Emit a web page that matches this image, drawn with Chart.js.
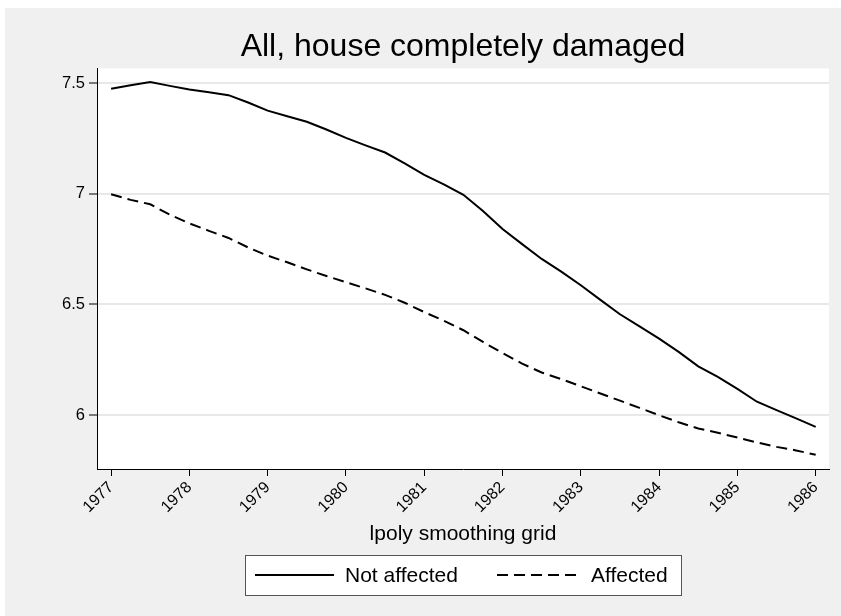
<!DOCTYPE html>
<html>
<head>
<meta charset="utf-8">
<script src="https://cdn.jsdelivr.net/npm/chart.js@4.4.0/dist/chart.umd.min.js"></script>
<style>
html, body { margin: 0; padding: 0; background: #fff; overflow: hidden; width: 841px; height: 616px; }
#panel { position: absolute; left: 5px; top: 8px; width: 836px; height: 608px; background: #f0f0f0; }
#chart { position: absolute; left: 0; top: 0; }
</style>
</head>
<body>
<div id="panel"></div>
<canvas id="chart" width="841" height="616"></canvas>
<script>
// lpoly grid points (years)
const grid = [1977, 1977.25, 1977.5, 1977.75, 1978, 1978.25, 1978.5, 1978.75,
    1979, 1979.25, 1979.5, 1979.75, 1980, 1980.25, 1980.5, 1980.75,
    1981, 1981.25, 1981.5, 1981.75, 1982, 1982.25, 1982.5, 1982.75,
    1983, 1983.25, 1983.5, 1983.75, 1984, 1984.25, 1984.5, 1984.75,
    1985, 1985.25, 1985.5, 1985.75, 1986];

const notAffected = [7.474, 7.490, 7.504, 7.487, 7.471, 7.458, 7.445, 7.412,
    7.375, 7.350, 7.325, 7.290, 7.252, 7.218, 7.186, 7.137,
    7.085, 7.042, 6.995, 6.922, 6.840, 6.772, 6.705, 6.648,
    6.586, 6.520, 6.455, 6.400, 6.345, 6.285, 6.220, 6.172,
    6.118, 6.060, 6.022, 5.985, 5.946];

const affected = [6.997, 6.972, 6.952, 6.905, 6.866, 6.832, 6.800, 6.757,
    6.720, 6.690, 6.658, 6.628, 6.600, 6.572, 6.543, 6.507,
    6.465, 6.426, 6.383, 6.330, 6.280, 6.232, 6.192, 6.162,
    6.130, 6.097, 6.065, 6.032, 5.999, 5.967, 5.939, 5.920,
    5.898, 5.876, 5.856, 5.840, 5.820];

const yearTicks = [1977, 1978, 1979, 1980, 1981, 1982, 1983, 1984, 1985, 1986];
const yTicks = [6, 6.5, 7, 7.5];

const FONT = "'Liberation Sans', Arial, Helvetica, sans-serif";

function toPoints(values) {
    return grid.map((g, i) => ({ x: g, y: values[i] }));
}

// white plot region on the grey panel
const plotBackground = {
    id: 'plotBackground',
    beforeDraw(chart) {
        const { ctx, chartArea: a } = chart;
        ctx.save();
        ctx.fillStyle = '#ffffff';
        ctx.fillRect(a.left, a.top, a.right - a.left, a.bottom - a.top);
        ctx.restore();
    }
};

// boxed legend under the axis title
const boxLegend = {
    id: 'boxLegend',
    afterDraw(chart) {
        const ctx = chart.ctx;
        const left = 245, top = 555, w = 436, h = 40;
        ctx.save();
        ctx.fillStyle = '#ffffff';
        ctx.fillRect(left, top, w, h);
        ctx.strokeStyle = '#555';
        ctx.lineWidth = 1;
        ctx.strokeRect(left + 0.5, top + 0.5, w, h);

        const entries = [
            { ds: chart.data.datasets[0], x1: 255, x2: 334, tx: 345 },
            { ds: chart.data.datasets[1], x1: 497, x2: 577, tx: 591 }
        ];
        const cy = top + h / 2;
        entries.forEach(e => {
            ctx.strokeStyle = e.ds.borderColor;
            ctx.lineWidth = e.ds.borderWidth;
            ctx.setLineDash(e.ds.borderDash || []);
            ctx.beginPath();
            ctx.moveTo(e.x1, cy);
            ctx.lineTo(e.x2, cy);
            ctx.stroke();
            ctx.setLineDash([]);
            ctx.fillStyle = '#000';
            ctx.font = '21px ' + FONT;
            ctx.textBaseline = 'middle';
            ctx.fillText(e.ds.label, e.tx, cy + 1);
        });
        ctx.restore();
    }
};

new Chart(document.getElementById('chart'), {
    type: 'line',
    data: {
        datasets: [
            {
                label: 'Not affected',
                data: toPoints(notAffected),
                borderColor: '#000',
                borderWidth: 2,
                pointRadius: 0,
                tension: 0
            },
            {
                label: 'Affected',
                data: toPoints(affected),
                borderColor: '#000',
                borderWidth: 2,
                borderDash: [11, 6],
                pointRadius: 0,
                tension: 0
            }
        ]
    },
    options: {
        responsive: false,
        animation: false,
        layout: { padding: { top: 28, right: 12, left: 0, bottom: 0 } },
        plugins: {
            legend: { display: false },
            tooltip: { enabled: false },
            title: {
                display: true,
                fullSize: false,
                text: 'All, house completely damaged',
                color: '#000',
                font: { size: 32, family: FONT, weight: 'normal' },
                padding: { top: 0, bottom: 2 }
            }
        },
        scales: {
            x: {
                type: 'linear',
                min: 1976.82,
                max: 1986.17,
                afterBuildTicks: scale => { scale.ticks = yearTicks.map(v => ({ value: v })); },
                afterFit: scale => { scale.height = 147; },
                ticks: {
                    color: '#000',
                    font: { size: 16, family: FONT },
                    minRotation: 45,
                    maxRotation: 45,
                    padding: 2,
                    callback: v => String(v)
                },
                grid: {
                    drawOnChartArea: false,
                    tickColor: '#000',
                    tickLength: 7
                },
                border: { color: '#000', width: 1 },
                title: {
                    display: true,
                    text: 'lpoly smoothing grid',
                    color: '#000',
                    font: { size: 21, family: FONT },
                    padding: { top: 4, bottom: 69 }
                }
            },
            y: {
                min: 5.756,
                max: 7.566,
                afterBuildTicks: scale => { scale.ticks = yTicks.map(v => ({ value: v })); },
                afterFit: scale => { scale.width = 97; },
                ticks: {
                    color: '#000',
                    font: { size: 16.5, family: FONT },
                    padding: 4,
                    callback: v => String(v)
                },
                grid: {
                    color: '#e8e8e8',
                    lineWidth: 2,
                    tickColor: '#000',
                    tickWidth: 1,
                    tickLength: 8
                },
                border: { color: '#000', width: 1 }
            }
        }
    },
    plugins: [plotBackground, boxLegend]
});
</script>
</body>
</html>
